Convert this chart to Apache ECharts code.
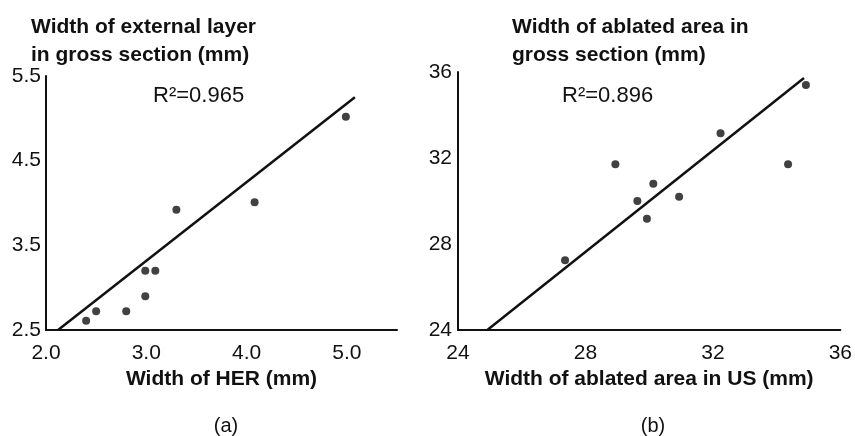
<!DOCTYPE html>
<html>
<head>
<meta charset="utf-8">
<script src="https://cdn.jsdelivr.net/npm/echarts@6/dist/echarts.min.js"></script>
<style>
  html, body { margin: 0; padding: 0; background: #fff; }
  #chart { width: 855px; height: 436px; }
</style>
</head>
<body>
<div id="chart"></div>
<script>
// panel (a): width of HER vs external layer
const herPoints = [
  [2.40, 2.61], [2.50, 2.72], [2.80, 2.72], [2.99, 2.90], [2.99, 3.20],
  [3.09, 3.20], [3.30, 3.92], [4.08, 4.01], [4.99, 5.02]
]
const herFit = [[2.12, 2.5], [5.08, 5.25]]

// panel (b): ablated area in US vs gross section
const usPoints = [
  [27.36, 27.24], [28.94, 31.71], [29.63, 30.0], [29.93, 29.18], [30.13, 30.80],
  [30.94, 30.20], [32.24, 33.15], [34.36, 31.71], [34.92, 35.40]
]
const usFit = [[24.92, 24], [34.86, 35.72]]

const FONT = '"Liberation Sans", Arial, Helvetica, sans-serif'

const chart = echarts.init(document.getElementById('chart'))

const axisLine = { show: true, lineStyle: { color: '#111', width: 2 } }
const tickFont = { color: '#111', fontSize: 21, fontFamily: FONT }

const option = {
  animation: false,
  title: [
    {
      text: 'Width of external layer\nin gross section (mm)',
      left: 26, top: 8,
      textStyle: { fontSize: 21, fontWeight: 'bold', color: '#111', fontFamily: FONT, lineHeight: 28 }
    },
    {
      text: 'Width of ablated area in\ngross section (mm)',
      left: 507, top: 8,
      textStyle: { fontSize: 21, fontWeight: 'bold', color: '#111', fontFamily: FONT, lineHeight: 28 }
    },
    {
      text: '(a)', left: 221, top: 411, textAlign: 'center',
      textStyle: { fontSize: 20, fontWeight: 'normal', color: '#111', fontFamily: FONT }
    },
    {
      text: '(b)', left: 648, top: 411, textAlign: 'center',
      textStyle: { fontSize: 20, fontWeight: 'normal', color: '#111', fontFamily: FONT }
    }
  ],
  graphic: [
    {
      type: 'text', left: 153, top: 85,
      style: { text: 'R²=0.965', fill: '#111', font: '22px ' + FONT }
    },
    {
      type: 'text', left: 562, top: 85,
      style: { text: 'R²=0.896', fill: '#111', font: '22px ' + FONT }
    }
  ],
  grid: [
    { left: 46, top: 76, width: 351, height: 254 },
    { left: 458, top: 72, width: 390, height: 258 }
  ],
  xAxis: [
    {
      gridIndex: 0, type: 'value', min: 2, max: 5.5, interval: 1,
      name: 'Width of HER (mm)', nameLocation: 'middle', nameGap: 37,
      nameTextStyle: { fontSize: 21, fontWeight: 'bold', color: '#111', fontFamily: FONT },
      axisLine: axisLine, axisTick: { show: false }, splitLine: { show: false },
      axisLabel: Object.assign({ margin: 13, showMaxLabel: false, formatter: v => v.toFixed(1) }, tickFont)
    },
    {
      gridIndex: 1, type: 'value', min: 24, max: 36, interval: 4,
      name: 'Width of ablated area in US (mm)', nameLocation: 'middle', nameGap: 37,
      nameTextStyle: { fontSize: 21, fontWeight: 'bold', color: '#111', fontFamily: FONT },
      axisLine: axisLine, axisTick: { show: false }, splitLine: { show: false },
      axisLabel: Object.assign({ margin: 13 }, tickFont)
    }
  ],
  yAxis: [
    {
      gridIndex: 0, type: 'value', min: 2.5, max: 5.5, interval: 1,
      axisLine: axisLine, axisTick: { show: false }, splitLine: { show: false },
      axisLabel: Object.assign({ margin: 5, formatter: v => v.toFixed(1) }, tickFont)
    },
    {
      gridIndex: 1, type: 'value', min: 24, max: 36, interval: 4,
      axisLine: axisLine, axisTick: { show: false }, splitLine: { show: false },
      axisLabel: Object.assign({ margin: 6 }, tickFont)
    }
  ],
  series: [
    {
      type: 'line', xAxisIndex: 0, yAxisIndex: 0, data: herFit,
      symbol: 'none', lineStyle: { color: '#111', width: 2.5 }
    },
    {
      type: 'scatter', xAxisIndex: 0, yAxisIndex: 0, data: herPoints,
      symbol: 'circle', symbolSize: 8, itemStyle: { color: '#111' }
    },
    {
      type: 'line', xAxisIndex: 1, yAxisIndex: 1, data: usFit,
      symbol: 'none', lineStyle: { color: '#111', width: 2.5 }
    },
    {
      type: 'scatter', xAxisIndex: 1, yAxisIndex: 1, data: usPoints,
      symbol: 'circle', symbolSize: 8, itemStyle: { color: '#111' }
    }
  ]
}

chart.setOption(option)
</script>
</body>
</html>
